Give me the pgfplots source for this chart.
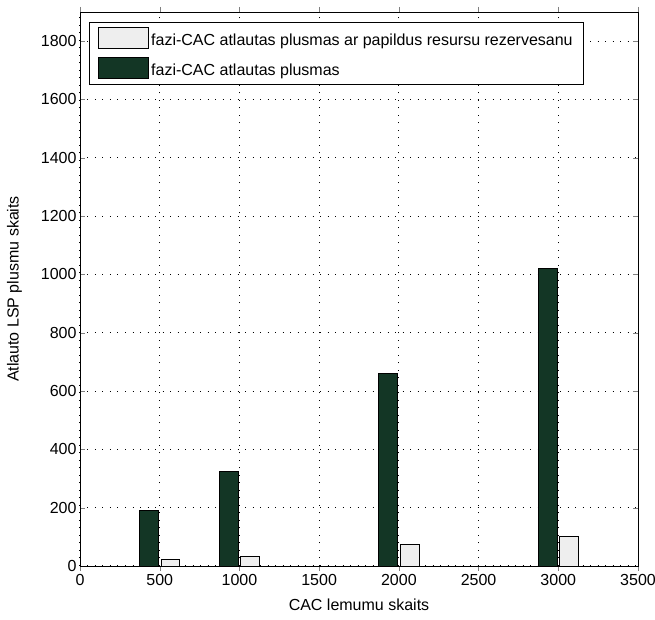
\documentclass[border=0pt]{standalone}
\usepackage{pgfplots}
\pgfplotsset{compat=1.18}
\usepackage{fontspec}
\setmainfont{Liberation Sans}
\definecolor{darkg}{RGB}{19,54,37}
\definecolor{lightg}{RGB}{238,238,238}
\begin{document}
\begin{tikzpicture}
\begin{axis}[
  scale only axis,
  width=558pt, height=554pt,
  xmin=0, xmax=3500, ymin=0, ymax=1900,
  xtick={0,500,...,3500}, ytick={0,200,...,1800},
  tick align=inside,
  major tick length=5pt,
  axis line style={black, line width=0.8pt},
  grid=major,
  grid style={black, line width=1pt, dash pattern=on 1pt off 6.5pt},
  /pgf/number format/assume math mode=true,
  /pgf/number format/1000 sep={},
  tick label style={font=\fontsize{16}{18}\selectfont},
  label style={font=\fontsize{16}{18}\selectfont},
  xlabel={CAC lemumu skaits},
  ylabel={Atlauto LSP plusmu skaits},
  xlabel style={yshift=-6pt},
  ylabel style={yshift=12pt},
  ybar,
  bar width=118,
  reverse legend,
  legend style={at={(9pt,544pt)}, anchor=north west, font=\fontsize{16}{18}\selectfont,
    draw=black, line width=0.8pt, row sep=8pt, inner ysep=5pt, inner xsep=9pt, cells={anchor=west}},
  legend image code/.code={\draw[#1, line width=0.8pt] (0pt,-8pt) rectangle (50pt,13pt);},
]
\addplot[draw=black, fill=darkg, line width=0.8pt, bar shift=-67] coordinates {(500,190) (1000,324) (2000,660) (3000,1020)};
\addlegendentry{fazi-CAC atlautas plusmas}
\addplot[draw=black, fill=lightg, line width=0.8pt, bar shift=67] coordinates {(500,24) (1000,34) (2000,73) (3000,101)};
\addlegendentry{fazi-CAC atlautas plusmas ar papildus resursu rezervesanu}
\end{axis}
\pgfresetboundingbox
\path[use as bounding box] (-80pt,-54pt) rectangle (575pt,566pt);
\end{tikzpicture}
\end{document}
